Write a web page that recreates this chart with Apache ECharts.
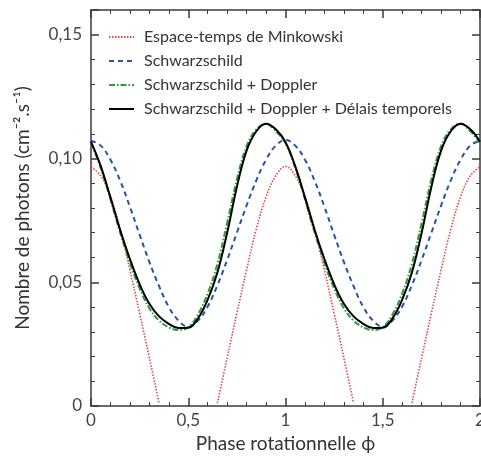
<!DOCTYPE html>
<html lang="fr">
  <head>
    <meta charset="UTF-8" />
    <title>Courbes de lumière</title>
    <script src="https://cdn.jsdelivr.net/npm/echarts@6/dist/echarts.min.js"></script>
    <style>
      html, body { margin: 0; padding: 0; background: #fff; }
      .echarts { width: 481px; height: 457px; }
    </style>
  </head>
  <body>
    <div class="echarts"></div>
    <script>
      // phase rotationnelle (abscisses)
      const phase = [
        0, 0.05, 0.1, 0.15, 0.2, 0.25, 0.3, 0.35, 0.4, 0.45,
        0.5, 0.55, 0.6, 0.65, 0.7, 0.75, 0.8, 0.85, 0.9, 0.95,
        1, 1.05, 1.1, 1.15, 1.2, 1.25, 1.3, 1.35, 1.4, 1.45,
        1.5, 1.55, 1.6, 1.65, 1.7, 1.75, 1.8, 1.85, 1.9, 1.95, 2
      ]

      // valeurs (cm-2.s-1)
      const minkowski = [
        0.0966, 0.0930, 0.0845, 0.0715, 0.0550, 0.0375, 0.0195, 0.0012, null, null,
        null, null, null, 0.0012, 0.0195, 0.0375, 0.0550, 0.0715, 0.0845, 0.0930,
        0.0968, 0.0930, 0.0845, 0.0715, 0.0550, 0.0375, 0.0195, 0.0012, null, null,
        null, null, null, 0.0012, 0.0195, 0.0375, 0.0550, 0.0715, 0.0845, 0.0930, 0.0966
      ]
      const schwarzschild = [
        0.1072, 0.1052, 0.0995, 0.0910, 0.0805, 0.0692, 0.0582, 0.0484, 0.0400, 0.0345,
        0.0320, 0.0345, 0.0402, 0.0488, 0.0590, 0.0700, 0.0810, 0.0912, 0.0995, 0.1052,
        0.1075, 0.1052, 0.0995, 0.0910, 0.0805, 0.0692, 0.0582, 0.0484, 0.0400, 0.0345,
        0.0320, 0.0345, 0.0402, 0.0488, 0.0590, 0.0700, 0.0810, 0.0912, 0.0995, 0.1052, 0.1072
      ]
      const doppler = [
        0.1062, 0.0962, 0.0835, 0.0700, 0.0578, 0.0475, 0.0395, 0.0345, 0.0318, 0.0307,
        0.0318, 0.0370, 0.0455, 0.0575, 0.0740, 0.0915, 0.1050, 0.1118, 0.1140, 0.1110,
        0.1062, 0.0962, 0.0835, 0.0700, 0.0578, 0.0475, 0.0395, 0.0345, 0.0318, 0.0307,
        0.0318, 0.0370, 0.0455, 0.0575, 0.0740, 0.0915, 0.1050, 0.1118, 0.1140, 0.1110, 0.1062
      ]
      const delais = [
        0.1068, 0.0969, 0.0843, 0.0711, 0.0594, 0.0492, 0.0413, 0.0362, 0.0332, 0.0315,
        0.0316, 0.0354, 0.0430, 0.0540, 0.0700, 0.0885, 0.1032, 0.1110, 0.1140, 0.1118,
        0.1066, 0.0969, 0.0843, 0.0711, 0.0594, 0.0492, 0.0413, 0.0362, 0.0332, 0.0315,
        0.0316, 0.0354, 0.0430, 0.0540, 0.0700, 0.0885, 0.1032, 0.1110, 0.1140, 0.1118, 0.1068
      ]

      const seriesNames = [
        'Espace-temps de Minkowski',
        'Schwarzschild',
        'Schwarzschild + Doppler',
        'Schwarzschild + Doppler + Délais temporels'
      ]

      const pairs = (ys) => phase.map((x, i) => [x, ys[i]])
      const font = 'Lato, "Open Sans", sans-serif'
      const axisColor = '#3a3a3a'

      const commonTick = {
        axisLine: { show: true, onZero: false, lineStyle: { color: axisColor, width: 1.5 } },
        axisTick: { show: true, inside: true, length: 8, lineStyle: { color: axisColor, width: 1.5 } },
        minorTick: { show: true, splitNumber: 5, length: 4, lineStyle: { color: axisColor, width: 1 } },
        splitLine: { show: false }
      }

      const fmtX = (v) => String(v).replace('.', ',')
      const fmtY = (v) => {
        const k = Math.round(v * 100)
        if (k % 5 !== 0) return ''
        return k === 0 ? '0' : (k / 100).toFixed(2).replace('.', ',')
      }

      const myChart = echarts.init(document.querySelector('.echarts'))

      const option = {
        animation: false,
        textStyle: { fontFamily: font },
        grid: { left: 91, right: 1, top: 10, bottom: 51, outerBoundsMode: 'none', containLabel: false },
        legend: {
          orient: 'vertical',
          left: 108,
          top: 29,
          padding: 0,
          itemWidth: 25,
          itemHeight: 14,
          itemGap: 8,
          data: seriesNames,
          itemStyle: { opacity: 0 },
          textStyle: { fontFamily: font, fontSize: 16, color: '#333', padding: [0, 0, 0, 5] }
        },
        xAxis: [
          {
            type: 'value',
            min: 0,
            max: 2,
            interval: 0.5,
            position: 'bottom',
            name: 'Phase rotationnelle ϕ',
            nameLocation: 'middle',
            nameGap: 25,
            nameTextStyle: { fontFamily: font, fontSize: 19, color: '#333' },
            axisLabel: { fontFamily: font, fontSize: 17, color: '#444', margin: 6, formatter: fmtX },
            ...commonTick
          },
          {
            type: 'value',
            min: 0,
            max: 2,
            interval: 0.5,
            position: 'top',
            axisLabel: { show: false },
            ...commonTick
          }
        ],
        yAxis: [
          {
            type: 'value',
            min: 0,
            max: 0.16,
            interval: 0.05,
            position: 'left',
            name: 'Nombre de photons (cm⁻².s⁻¹)',
            nameLocation: 'middle',
            nameGap: 59,
            nameTextStyle: { fontFamily: font, fontSize: 19, color: '#333' },
            axisLabel: { fontFamily: font, fontSize: 17, color: '#444', margin: 9, formatter: fmtY },
            ...commonTick
          },
          {
            type: 'value',
            min: 0,
            max: 0.16,
            interval: 0.05,
            position: 'right',
            axisLabel: { show: false },
            ...commonTick
          }
        ],
        series: [
          {
            name: seriesNames[0],
            type: 'line',
            data: pairs(minkowski),
            smooth: 0.4,
            symbol: 'none',
            connectNulls: false,
            lineStyle: { color: '#e84545', width: 1.6, type: [1.5, 1.5] },
            itemStyle: { color: '#e84545' }
          },
          {
            name: seriesNames[1],
            type: 'line',
            data: pairs(schwarzschild),
            smooth: 0.4,
            symbol: 'none',
            lineStyle: { color: '#2454a8', width: 2, type: [5, 4] },
            itemStyle: { color: '#2454a8' }
          },
          {
            name: seriesNames[2],
            type: 'line',
            data: pairs(doppler),
            smooth: 0.4,
            symbol: 'none',
            lineStyle: { color: '#2e9a3c', width: 2, type: [6, 2, 1.5, 2] },
            itemStyle: { color: '#2e9a3c' }
          },
          {
            name: seriesNames[3],
            type: 'line',
            data: pairs(delais),
            smooth: 0.4,
            symbol: 'none',
            lineStyle: { color: '#000', width: 2 },
            itemStyle: { color: '#000' }
          }
        ]
      }
      myChart.setOption(option)
    </script>
  </body>
</html>
